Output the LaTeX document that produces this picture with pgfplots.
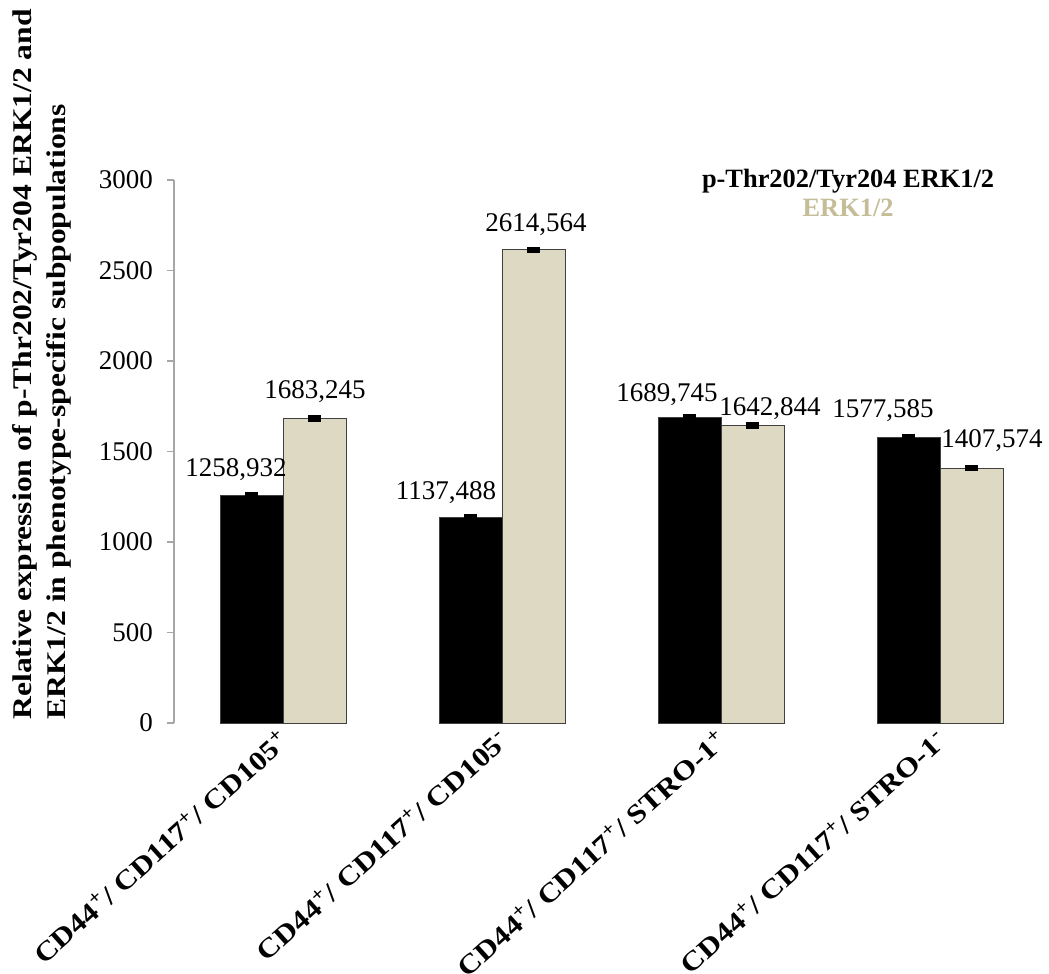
\documentclass[border=0pt]{standalone}
\usepackage{fontspec}
\setmainfont{Liberation Serif}
\newfontfamily\stretchfont[FakeStretch=1.16]{Liberation Serif}
\newfontfamily\ylfont[FakeStretch=1.17]{Liberation Serif}
\usepackage{pgfplots}
\pgfplotsset{compat=1.18}
\usepackage{pgfplotstable}
\definecolor{tanfill}{HTML}{DDD9C3}
\definecolor{tantext}{HTML}{C4BD97}
\definecolor{axgray}{HTML}{A6A6A6}
\definecolor{baredge}{HTML}{404040}

\pgfplotstableread{
x y err lab dx dy
0 1258.932 18 1258,932 -8 9.5
1 1137.488 18 1137,488 -12.5 9
2 1689.745 18 1689,745 -11.5 8
3 1577.585 18 1577,585 -13 10
}\tblP

\pgfplotstableread{
x y err lab dx dy
0 1683.245 18 1683,245 0 10
1 2614.564 18 2614,564 1 9
2 1642.844 18 1642,844 8.5 5
3 1407.574 18 1407,574 10 10.5
}\tblE

\begin{document}
\begin{tikzpicture}
\path[use as bounding box] (-87pt,-125.5pt) rectangle (437.5pt,361.5pt);
\begin{axis}[
  at={(0,0)}, anchor=south west,
  width=438pt, height=271.5pt, scale only axis,
  xmin=-0.5, xmax=3.5, ymin=0, ymax=3000,
  ybar=0pt, bar width=31.5pt,
  clip=false,
  axis lines*=left,
  x axis line style={draw=none},
  y axis line style={axgray, line width=0.8pt},
  ytick style={axgray, line width=0.8pt},
  xtick style={draw=none},
  major tick length=3.5pt,
  tick align=outside,
  xtick={0,1,2,3},
  xticklabels={
    CD44\textsuperscript{+}/ CD117\textsuperscript{+}/ CD105\textsuperscript{+},
    CD44\textsuperscript{+}/ CD117\textsuperscript{+}/ CD105\textsuperscript{-},
    CD44\textsuperscript{+}/ CD117\textsuperscript{+}/ STRO-1\textsuperscript{+},
    CD44\textsuperscript{+}/ CD117\textsuperscript{+}/ STRO-1\textsuperscript{-}},
  xticklabel style={xshift=-3pt, yshift=3pt, rotate=42, anchor=north east, inner sep=1pt,
    font={\stretchfont\fontsize{13.5}{16}\selectfont\bfseries}},
  ytick={0,500,1000,1500,2000,2500,3000},
  scaled y ticks=false,
  yticklabel style={font={\fontsize{13.5}{16}\selectfont}, xshift=-3.5pt,
    /pgf/number format/assume math mode=true,
    /pgf/number format/1000 sep={}},
  every node near coord/.append style={font={\fontsize{13.5}{16}\selectfont}, anchor=base, text=black},
]
\addplot[fill=black, draw=baredge, line width=0.5pt, bar shift=-15.75pt,
  error bars/.cd, y dir=both, y explicit, error mark=none,
  error bar style={line width=6.5pt, black},
  /pgfplots/.cd,
  point meta=explicit symbolic,
  visualization depends on={\thisrow{dx} \as \dx},
  visualization depends on={\thisrow{dy} \as \dy},
  nodes near coords,
  nodes near coords style={xshift=\dx pt, yshift=\dy pt}]
  table[x=x, y=y, y error=err, meta=lab]{\tblP};
\addplot[fill=tanfill, draw=baredge, line width=0.5pt, bar shift=15.75pt,
  error bars/.cd, y dir=both, y explicit, error mark=none,
  error bar style={line width=6.5pt, black},
  /pgfplots/.cd,
  point meta=explicit symbolic,
  visualization depends on={\thisrow{dx} \as \dx},
  visualization depends on={\thisrow{dy} \as \dy},
  nodes near coords,
  nodes near coords style={xshift=\dx pt, yshift=\dy pt}]
  table[x=x, y=y, y error=err, meta=lab]{\tblE};
\node[anchor=base, font={\fontsize{13.2}{16}\selectfont\bfseries}] at (axis cs:2.578,2961) {p-Thr202/Tyr204 ERK1/2};
\node[anchor=base, text=tantext, font={\fontsize{13.2}{16}\selectfont\bfseries}] at (axis cs:2.578,2801) {ERK1/2};
\end{axis}
\node[rotate=90, anchor=north west, align=left, inner sep=0pt,
  font={\ylfont\fontsize{13.5}{16.8}\selectfont\bfseries}] at (-81pt,1.5pt)
  {Relative expression of p-Thr202/Tyr204 ERK1/2 and\\ERK1/2 in phenotype-specific subpopulations};
\end{tikzpicture}
\end{document}
